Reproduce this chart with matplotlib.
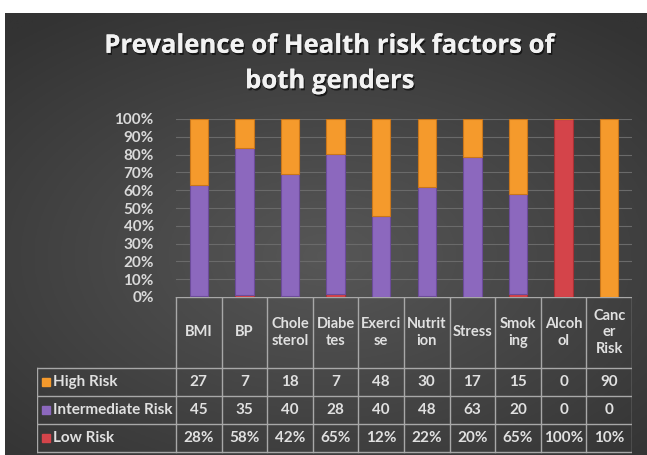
import numpy as np
import matplotlib.pyplot as plt
import matplotlib.patheffects as pe

categories = ['BMI', 'BP', 'Cholesterol', 'Diabetes', 'Exercise', 'Nutrition',
              'Stress', 'Smoking', 'Alcohol', 'Cancer Risk']
header_labels = ['BMI', 'BP', 'Chole\nsterol', 'Diabe\ntes', 'Exerci\nse',
                 'Nutrit\nion', 'Stress', 'Smok\ning', 'Alcoh\nol', 'Canc\ner\nRisk']
high_risk = [27, 7, 18, 7, 48, 30, 17, 15, 0, 90]
intermediate_risk = [45, 35, 40, 28, 40, 48, 63, 20, 0, 0]
low_risk = [0.28, 0.58, 0.42, 0.65, 0.12, 0.22, 0.20, 0.65, 1.00, 0.10]
low_risk_labels = ['28%', '58%', '42%', '65%', '12%', '22%', '20%', '65%', '100%', '10%']
series_names = ['High Risk', 'Intermediate Risk', 'Low Risk']
colors = {'High Risk': '#F59A2C', 'Intermediate Risk': '#8C68BE', 'Low Risk': '#D4444A'}
edges = {'High Risk': '#C9761A', 'Intermediate Risk': '#6C4C9A', 'Low Risk': '#A83034'}

plt.rcParams['font.family'] = ['Lato', 'DejaVu Sans']
W, H = 647, 455
fig = plt.figure(figsize=(W / 100, H / 100), dpi=100)
fig.patch.set_facecolor('white')

# dark radial gradient background
bg = fig.add_axes([5 / W, 0, 642 / W, 1 - 13 / H])
yy, xx = np.mgrid[-1:1:200j, -1:1:300j]
r = np.sqrt((xx * 0.8) ** 2 + ((yy - 0.1) * 0.9) ** 2)
shade = 0.34 - 0.14 * np.clip(r, 0, 1.2) / 1.2
bg.imshow(np.dstack([shade] * 3), aspect='auto', extent=[0, 1, 0, 1])
bg.axis('off')

fig.text(330 / W, 1 - 63 / H, 'Prevalence of Health risk factors of\nboth genders',
         ha='center', va='center', fontsize=18.5, fontweight='bold', color='#F2F2F2',
         family=['Open Sans', 'DejaVu Sans'], linespacing=1.4,
         path_effects=[pe.withSimplePatchShadow(offset=(1, -1.5), shadow_rgbFace='black', alpha=0.6),
                       pe.Normal()])

# stacked 100% columns
n = len(categories)
x = np.arange(n)
low = np.array(low_risk)
mid = np.array(intermediate_risk, dtype=float)
high = np.array(high_risk, dtype=float)
tot = low + mid + high
ax = fig.add_axes([176 / W, 1 - 297 / H, 456 / W, 178 / H])
ax.set_facecolor('none')
bottom = np.zeros(n)
for vals, name in [(low, 'Low Risk'), (mid, 'Intermediate Risk'), (high, 'High Risk')]:
    share = vals / tot
    ax.bar(x, share, 0.4, bottom=bottom, color=colors[name], edgecolor=edges[name],
           linewidth=0.8, zorder=3)
    bottom += share
ax.set_xlim(-0.5, n - 0.5)
ax.set_ylim(0, 1)
ax.set_yticks(np.arange(0, 1.01, 0.1))
ax.set_yticklabels([f'{int(round(v * 100))}%' for v in np.arange(0, 1.01, 0.1)])
ax.tick_params(axis='y', length=0, pad=16, labelsize=11, labelcolor='#D9D9D9')
for lab in ax.get_yticklabels():
    lab.set_fontweight('bold')
ax.set_xticks([])
ax.grid(axis='y', color='#6A6A6A', linewidth=0.8, zorder=0)
for s in ax.spines.values():
    s.set_visible(False)

# data table under the plot
col_w = 456 / n
legend_w = 139 / col_w
tab = fig.add_axes([37 / W, 0, 595 / W, 1 - 297 / H])
tab.set_xlim(-0.5 - legend_w, n - 0.5)
tab.set_ylim(158, 0)
tab.axis('off')
line_c = '#A8A8A8'
txt_c = '#E0E0E0'
head_h = 71
row_h = (155 - head_h) / 3
y_rows = [head_h + i * row_h for i in range(4)]
# horizontal lines
tab.plot([-0.5, n - 0.5], [0, 0], color=line_c, lw=1)
for yv in y_rows:
    tab.plot([-0.5 - legend_w, n - 0.5], [yv, yv], color=line_c, lw=1)
# vertical lines
for i in range(n + 1):
    tab.plot([i - 0.5, i - 0.5], [0, y_rows[-1]], color=line_c, lw=1)
tab.plot([-0.5 - legend_w] * 2, [head_h, y_rows[-1]], color=line_c, lw=1)

for i, lab in enumerate(header_labels):
    tab.text(i, head_h / 2, lab, ha='center', va='center', color=txt_c,
             fontsize=10.5, fontweight='bold', linespacing=1.2)

rows = [[str(v) for v in high_risk], [str(v) for v in intermediate_risk], low_risk_labels]
for r_i, (name, vals) in enumerate(zip(series_names, rows)):
    yc = y_rows[r_i] + row_h / 2
    tab.text(-0.5 - legend_w + 0.35, yc, name, ha='left', va='center', color=txt_c,
             fontsize=11, fontweight='bold')
    tab.add_patch(plt.Rectangle((-0.5 - legend_w + 0.12, yc - 4), 0.17, 8,
                                color=colors[name]))
    for i, v in enumerate(vals):
        tab.text(i, yc, v, ha='center', va='center', color=txt_c,
                 fontsize=11, fontweight='bold')

fig.savefig('out.png', dpi=100)
